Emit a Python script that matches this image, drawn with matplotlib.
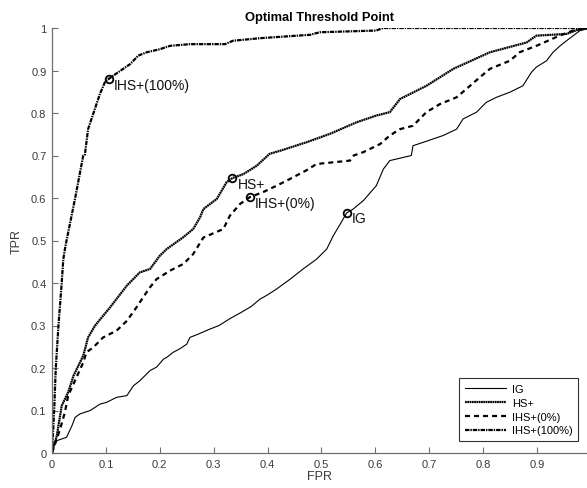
import matplotlib
matplotlib.use("Agg")
import matplotlib.pyplot as plt

plt.rcParams['font.family'] = ['Liberation Sans', 'DejaVu Sans']
plt.rcParams['lines.scale_dashes'] = False

# ROC curves (false positive rate, true positive rate)
ig_fpr = [0.0, 0.002, 0.009, 0.027, 0.037, 0.043, 0.052, 0.071, 0.089, 0.101, 0.120, 0.139,
          0.151, 0.163, 0.182, 0.194, 0.207, 0.213, 0.225, 0.237, 0.250, 0.256, 0.272, 0.290,
          0.310, 0.330, 0.350, 0.370, 0.386, 0.400, 0.417, 0.442, 0.466, 0.491, 0.510, 0.522,
          0.537, 0.547, 0.559, 0.578, 0.602, 0.615, 0.627, 0.667, 0.670, 0.689, 0.726, 0.751,
          0.763, 0.788, 0.806, 0.825, 0.850, 0.874, 0.890, 0.899, 0.918, 0.930, 0.943, 0.955,
          0.980, 1.0]
ig_tpr = [0.0, 0.017, 0.029, 0.037, 0.064, 0.084, 0.092, 0.100, 0.115, 0.119, 0.131, 0.135,
          0.158, 0.170, 0.194, 0.202, 0.221, 0.225, 0.237, 0.245, 0.256, 0.272, 0.280, 0.290,
          0.300, 0.316, 0.330, 0.345, 0.362, 0.372, 0.386, 0.409, 0.433, 0.456, 0.480, 0.511,
          0.543, 0.565, 0.574, 0.594, 0.629, 0.668, 0.688, 0.700, 0.723, 0.731, 0.747, 0.762,
          0.786, 0.802, 0.825, 0.837, 0.849, 0.864, 0.896, 0.908, 0.923, 0.943, 0.958, 0.970,
          0.994, 1.0]

hs_fpr = [0.0, 0.009, 0.018, 0.030, 0.040, 0.058, 0.067, 0.080, 0.108, 0.139, 0.163, 0.182,
          0.200, 0.213, 0.244, 0.262, 0.275, 0.281, 0.306, 0.324, 0.335, 0.355, 0.380, 0.404,
          0.423, 0.472, 0.516, 0.565, 0.602, 0.627, 0.646, 0.695, 0.745, 0.813, 0.881, 0.899,
          0.955, 0.980, 1.0]
hs_tpr = [0.0, 0.041, 0.111, 0.143, 0.182, 0.229, 0.272, 0.300, 0.343, 0.394, 0.425, 0.433,
          0.464, 0.480, 0.508, 0.527, 0.555, 0.574, 0.598, 0.637, 0.647, 0.656, 0.676, 0.704,
          0.711, 0.731, 0.751, 0.778, 0.794, 0.802, 0.833, 0.864, 0.904, 0.943, 0.966, 0.982,
          0.986, 0.998, 1.0]

ihs0_fpr = [0.0, 0.015, 0.024, 0.030, 0.058, 0.064, 0.077, 0.095, 0.120, 0.139, 0.157, 0.169,
            0.182, 0.194, 0.219, 0.244, 0.262, 0.281, 0.318, 0.330, 0.349, 0.367, 0.392, 0.417,
            0.442, 0.472, 0.491, 0.553, 0.560, 0.578, 0.609, 0.627, 0.646, 0.670, 0.695, 0.720,
            0.751, 0.776, 0.794, 0.813, 0.850, 0.868, 0.899, 0.942, 0.967, 1.0]
ihs0_tpr = [0.0, 0.056, 0.096, 0.135, 0.213, 0.237, 0.249, 0.272, 0.288, 0.311, 0.343, 0.366,
            0.390, 0.409, 0.429, 0.445, 0.468, 0.507, 0.527, 0.558, 0.586, 0.602, 0.614, 0.629,
            0.645, 0.665, 0.680, 0.688, 0.700, 0.708, 0.727, 0.747, 0.762, 0.770, 0.802, 0.821,
            0.837, 0.864, 0.884, 0.904, 0.923, 0.943, 0.958, 0.982, 0.994, 1.0]

ihs100_fpr = [0.0, 0.004, 0.007, 0.012, 0.018, 0.021, 0.024, 0.027, 0.043, 0.058, 0.061,
              0.067, 0.077, 0.089, 0.098, 0.105, 0.123, 0.145, 0.160, 0.176, 0.200, 0.219,
              0.256, 0.321, 0.336, 0.386, 0.479, 0.497, 0.602, 0.614, 1.0]
ihs100_tpr = [0.0, 0.100, 0.200, 0.300, 0.400, 0.456, 0.480, 0.500, 0.600, 0.700, 0.702,
              0.762, 0.800, 0.845, 0.872, 0.880, 0.896, 0.915, 0.935, 0.943, 0.950, 0.958,
              0.962, 0.962, 0.970, 0.976, 0.984, 0.990, 0.994, 1.0, 1.0]

# Optimal threshold points
opt_labels = ['IHS+(100%)', 'HS+', 'IHS+(0%)', 'IG']
opt_fpr = [0.105, 0.335, 0.367, 0.547]
opt_tpr = [0.880, 0.647, 0.602, 0.565]

series_names = ['IG', 'HS+', 'IHS+(0%)', 'IHS+(100%)']
x_ticks = [0, 0.1, 0.2, 0.3, 0.4, 0.5, 0.6, 0.7, 0.8, 0.9]
x_tick_labels = ['0', '0.1', '0.2', '0.3', '0.4', '0.5', '0.6', '0.7', '0.8', '0.9']
y_ticks = [0, 0.1, 0.2, 0.3, 0.4, 0.5, 0.6, 0.7, 0.8, 0.9, 1.0]
y_tick_labels = ['0', '0.1', '0.2', '0.3', '0.4', '0.5', '0.6', '0.7', '0.8', '0.9', '1']

W, H = 587, 489
fig = plt.figure(figsize=(W / 100, H / 100), dpi=100)
ax = fig.add_axes([52 / W, (H - 454) / H, (W - 52) / W, (454 - 29) / H])

ax.plot(ig_fpr, ig_tpr, color='black', lw=0.8, label=series_names[0])
ax.plot(hs_fpr, hs_tpr, color='black', lw=1.6, dashes=(1.3, 0.35), label=series_names[1])
ax.plot(ihs0_fpr, ihs0_tpr, color='black', lw=1.6, dashes=(3.6, 2.9), label=series_names[2])
ax.plot(ihs100_fpr, ihs100_tpr, color='black', lw=1.6, dashes=(3.2, 0.7, 1.0, 0.7),
        label=series_names[3])

ax.plot(opt_fpr, opt_tpr, linestyle='none', marker='o', markersize=5.5,
        markerfacecolor='none', markeredgecolor='black', markeredgewidth=1.3)
for lab, fx, ty in zip(opt_labels, opt_fpr, opt_tpr):
    ax.annotate(lab, (fx, ty), xytext=(3.6, -4.0), textcoords='offset points',
                ha='left', va='center', fontsize=10, color='#111111')

ax.set_xlim(0, 0.993)
ax.set_ylim(0, 1)
ax.set_xticks(x_ticks)
ax.set_xticklabels(x_tick_labels)
ax.set_yticks(y_ticks)
ax.set_yticklabels(y_tick_labels)

axis_col = '#6e6e6e'
for side in ['top', 'right']:
    ax.spines[side].set_visible(False)
for side in ['left', 'bottom']:
    ax.spines[side].set_color(axis_col)
    ax.spines[side].set_linewidth(0.9)
ax.tick_params(direction='in', length=4, width=0.8, color=axis_col,
               labelsize=8, labelcolor='#3a3a3a', pad=4)

ax.set_xlabel('FPR', fontsize=9, color='#3a3a3a', labelpad=1)
ax.set_ylabel('TPR', fontsize=9, color='#3a3a3a', labelpad=6)
ax.set_title('Optimal Threshold Point', fontsize=9.3, fontweight='bold', color='black', pad=6)

leg = ax.legend(loc='lower right', bbox_to_anchor=(578 / W, (H - 442) / H),
                bbox_transform=fig.transFigure, borderaxespad=0, fontsize=8,
                frameon=True, fancybox=False, handlelength=3.7, handletextpad=0.5,
                labelspacing=0.35, borderpad=0.5)
leg.get_frame().set_edgecolor('black')
leg.get_frame().set_linewidth(0.8)

fig.savefig('out.png', dpi=100)
